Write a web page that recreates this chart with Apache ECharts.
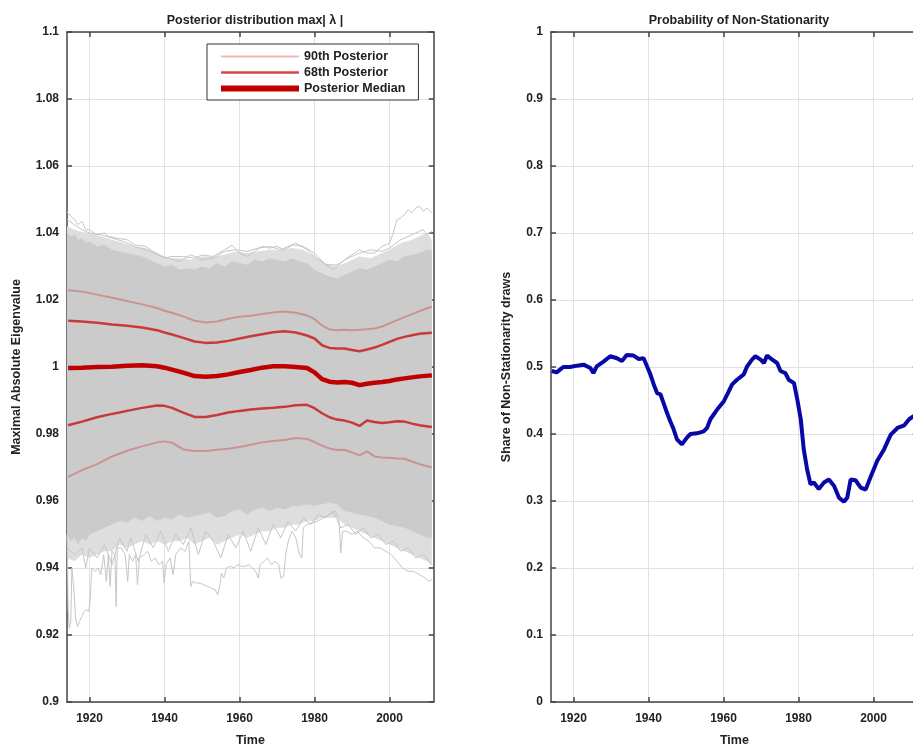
<!DOCTYPE html>
<html><head><meta charset="utf-8">
<script src="https://cdn.jsdelivr.net/npm/echarts@6/dist/echarts.min.js"></script>
<style>html,body{margin:0;padding:0;background:#fff}#c{width:913px;height:745px}</style>
</head><body><div id="c"></div><script>
// ---------- data ----------
const xTicks = [1920, 1940, 1960, 1980, 2000];

// dense grey posterior-draw band (lower / upper edge)
const bandYears = [1914,1915,1916,1917,1918,1919,1920,1922,1924,1926,1928,1930,1932,1934,1936,1938,1940,1942,1944,1946,1948,1950,1952,1954,1956,1958,1960,1962,1964,1966,1968,1970,1972,1974,1976,1978,1980,1982,1984,1986,1988,1990,1992,1994,1996,1998,2000,2002,2004,2006,2008,2010,2011.3];
const bandHigh = [1.040,1.039,1.0395,1.038,1.0385,1.037,1.0375,1.036,1.0365,1.035,1.0345,1.034,1.0335,1.033,1.032,1.031,1.030,1.0305,1.029,1.0295,1.029,1.030,1.0295,1.031,1.030,1.0315,1.031,1.0305,1.032,1.0315,1.0325,1.032,1.0315,1.0325,1.0315,1.031,1.029,1.028,1.027,1.0265,1.0275,1.0285,1.0295,1.029,1.030,1.031,1.032,1.0315,1.033,1.0335,1.034,1.035,1.035];
const bandLow = [0.950,0.948,0.949,0.947,0.949,0.948,0.950,0.951,0.952,0.953,0.954,0.9535,0.955,0.954,0.9555,0.954,0.955,0.9545,0.956,0.955,0.9555,0.956,0.9565,0.955,0.9555,0.957,0.9575,0.956,0.9575,0.958,0.957,0.958,0.9575,0.9585,0.9585,0.959,0.9585,0.959,0.9595,0.959,0.957,0.9565,0.956,0.9555,0.955,0.954,0.953,0.9525,0.952,0.951,0.950,0.949,0.949];

// sparse zone of scattered draws (outer envelope of most draws)
const sparseTopYears = [1914,1917,1920,1923,1926,1929,1932,1935,1938,1941,1944,1947,1950,1953,1956,1959,1962,1965,1968,1971,1974,1977,1980,1983,1986,1989,1992,1995,1998,2000,2003,2006,2008,2010,2011.3];
const sparseTop = [1.042,1.0405,1.040,1.039,1.038,1.037,1.036,1.0355,1.034,1.0325,1.0325,1.032,1.033,1.033,1.0335,1.0345,1.034,1.0345,1.035,1.035,1.0355,1.035,1.033,1.031,1.030,1.0315,1.033,1.0325,1.034,1.035,1.037,1.038,1.039,1.040,1.038];
const sparseLowYears = [1914,1916,1918,1920,1922,1924,1926,1928,1930,1932,1934,1936,1938,1940,1942,1944,1946,1948,1950,1952,1954,1956,1958,1960,1962,1964,1966,1968,1970,1972,1974,1976,1978,1980,1982,1984,1986,1988,1990,1992,1994,1996,1998,2000,2002,2004,2006,2008,2010,2011.3];
const sparseLow = [0.943,0.942,0.944,0.943,0.944,0.945,0.945,0.947,0.946,0.947,0.948,0.947,0.948,0.947,0.948,0.948,0.949,0.947,0.948,0.949,0.947,0.948,0.949,0.950,0.949,0.950,0.951,0.951,0.952,0.952,0.953,0.953,0.954,0.954,0.955,0.955,0.955,0.953,0.952,0.951,0.950,0.949,0.948,0.947,0.946,0.945,0.944,0.943,0.942,0.941];

// individual outlying grey draws
const drawTopA = [[1914,1.0463],[1915,1.045],[1916,1.044],[1917,1.0425],[1918,1.0435],[1919,1.041],[1920,1.041],[1922,1.0395],[1924,1.040],[1925,1.039],[1927,1.0385],[1930,1.038],[1932,1.0365],[1935,1.036],[1937,1.0345],[1940,1.0325],[1942,1.033],[1945,1.033],[1948,1.0325],[1950,1.0334],[1953,1.033],[1956,1.035],[1958,1.0364],[1960,1.034],[1962,1.033],[1964,1.0345],[1966,1.036],[1968,1.0355],[1970,1.036],[1972,1.035],[1975,1.037],[1978,1.035],[1980,1.033],[1982,1.0313],[1985,1.029],[1988,1.032],[1990,1.0335],[1992,1.035],[1994,1.034],[1996,1.034],[1998,1.036],[2000,1.037],[2001,1.040],[2002,1.044],[2003,1.0445],[2004,1.0455],[2005,1.047],[2006,1.046],[2007,1.0475],[2008,1.048],[2009,1.0465],[2010,1.0475],[2011.3,1.046]];
const drawTopB = [[1914,1.044],[1916,1.0425],[1918,1.041],[1920,1.040],[1923,1.0395],[1926,1.0385],[1929,1.0375],[1932,1.036],[1935,1.035],[1938,1.0335],[1941,1.0325],[1944,1.0315],[1947,1.0335],[1950,1.032],[1953,1.0325],[1956,1.0345],[1959,1.035],[1962,1.0345],[1965,1.0355],[1968,1.036],[1971,1.035],[1974,1.0365],[1977,1.036],[1980,1.034],[1983,1.0305],[1986,1.0305],[1989,1.0325],[1992,1.034],[1995,1.035],[1998,1.0345],[2000,1.0355],[2003,1.038],[2006,1.0395],[2008,1.0405],[2009,1.041],[2010,1.0395],[2011.3,1.0405]];
const drawLowA = [[1914.0,0.950],[1914.3,0.928],[1914.6,0.922],[1915.0,0.924],[1915.3,0.94],[1915.8,0.934],[1916.3,0.925],[1916.8,0.9225],[1917.3,0.924],[1918,0.9255],[1918.5,0.927],[1919.2,0.9275],[1919.8,0.927],[1920.2,0.931],[1920.6,0.94],[1921.5,0.939],[1922.3,0.94],[1923,0.938],[1923.8,0.944],[1924.5,0.936],[1925,0.944],[1925.5,0.9345],[1926,0.945],[1926.8,0.944],[1927.1,0.9285],[1927.4,0.946],[1928.5,0.946],[1929.5,0.944],[1930.2,0.936],[1930.6,0.944],[1931.5,0.942],[1932.3,0.944],[1932.8,0.935],[1933.3,0.943],[1934.5,0.944],[1935.5,0.945],[1936.5,0.942],[1937.5,0.943],[1938.5,0.941],[1939.5,0.942],[1939.9,0.9355],[1940.4,0.941],[1941.5,0.943],[1942.3,0.938],[1943,0.944],[1944.3,0.946],[1945.5,0.945],[1946.5,0.948],[1947,0.9345],[1947.5,0.936],[1948.5,0.9355],[1949.5,0.9355],[1950.5,0.935],[1951.5,0.9345],[1952.5,0.934],[1953.5,0.9335],[1954.2,0.932],[1954.8,0.935],[1955.2,0.9385],[1955.8,0.937],[1956.5,0.94],[1957.5,0.9405],[1958.5,0.94],[1959.5,0.941],[1960.5,0.9405],[1961.5,0.9405],[1962.5,0.941],[1963.5,0.94],[1964.5,0.9385],[1965,0.937],[1965.5,0.941],[1966.5,0.942],[1967.5,0.943],[1968.5,0.941],[1969.5,0.942],[1970.5,0.941],[1971,0.937],[1971.8,0.9375],[1972.3,0.944],[1973,0.948],[1974,0.951],[1975,0.949],[1976,0.944],[1976.6,0.943],[1977,0.952],[1978,0.953],[1979.5,0.9535],[1981,0.954],[1982.5,0.955],[1984,0.956],[1985.5,0.957],[1986.5,0.955],[1987,0.9445],[1987.5,0.951],[1988.5,0.951],[1990,0.950],[1991.5,0.951],[1993,0.949],[1994.5,0.948],[1996,0.946],[1997.5,0.946],[1999,0.945],[2000.5,0.944],[2002,0.942],[2003.5,0.940],[2005,0.939],[2006.5,0.939],[2008,0.938],[2009.5,0.937],[2010.5,0.936],[2011.3,0.9365]];
const drawLowB = [[1914,0.946],[1916,0.944],[1918,0.946],[1919,0.940],[1920,0.946],[1922,0.943],[1924,0.947],[1926,0.941],[1928,0.949],[1930,0.945],[1931,0.949],[1933,0.942],[1935,0.950],[1937,0.946],[1939,0.951],[1941,0.945],[1943,0.950],[1945,0.947],[1947,0.952],[1949,0.944],[1951,0.951],[1953,0.948],[1955,0.943],[1957,0.950],[1959,0.946],[1961,0.951],[1963,0.945],[1965,0.952],[1967,0.947],[1969,0.953],[1971,0.949],[1973,0.954],[1975,0.951],[1977,0.955],[1979,0.953],[1981,0.956],[1983,0.955],[1985,0.957],[1987,0.952],[1989,0.953],[1991,0.950],[1993,0.952],[1995,0.949],[1997,0.950],[1999,0.947],[2001,0.948],[2003,0.945],[2005,0.946],[2007,0.943],[2009,0.944],[2011.3,0.941]];

// posterior bands
const redYears = [1914.3,1918,1922,1926,1930,1934,1938,1940,1942,1945,1948,1951,1954,1957,1960,1963,1966,1969,1972,1975,1978,1980,1982,1984,1986,1988,1990,1992,1994,1996,1998,2000,2002,2004,2006,2008,2011.3];
const p90Upper = [1.0229,1.0225,1.0216,1.0207,1.0197,1.0187,1.0176,1.0168,1.0162,1.0151,1.0138,1.0133,1.0136,1.0144,1.0150,1.0153,1.0158,1.0163,1.0166,1.0162,1.0154,1.0143,1.0124,1.0112,1.0110,1.0111,1.0110,1.0111,1.0113,1.0115,1.0121,1.0130,1.0140,1.0149,1.0158,1.0167,1.0180];
const p68Upper = [1.0138,1.0136,1.0132,1.0127,1.0123,1.0118,1.0110,1.0103,1.0097,1.0087,1.0076,1.0072,1.0073,1.0078,1.0085,1.0092,1.0098,1.0104,1.0107,1.0103,1.0094,1.0085,1.0065,1.0057,1.0055,1.0055,1.0051,1.0047,1.0052,1.0058,1.0066,1.0075,1.0084,1.0090,1.0095,1.0099,1.0102];
const median = [0.9997,0.9998,1.0000,1.0001,1.0004,1.0005,1.0002,0.9998,0.9992,0.9983,0.9973,0.9971,0.9973,0.9978,0.9985,0.9991,0.9998,1.0002,1.0002,1.0000,0.9997,0.9984,0.9964,0.9956,0.9954,0.9955,0.9953,0.9946,0.9950,0.9953,0.9955,0.9958,0.9963,0.9966,0.9969,0.9972,0.9975];
const p68Lower = [0.9826,0.9837,0.9850,0.9860,0.9869,0.9878,0.9885,0.9884,0.9878,0.9864,0.9851,0.9851,0.9857,0.9864,0.9869,0.9873,0.9876,0.9878,0.9881,0.9886,0.9887,0.9877,0.9862,0.9850,0.9843,0.9840,0.9834,0.9824,0.9840,0.9836,0.9833,0.9835,0.9838,0.9837,0.9831,0.9826,0.9821];
const p90Lower = [0.9672,0.9692,0.9710,0.9733,0.9750,0.9763,0.9775,0.9778,0.9774,0.9754,0.9749,0.9749,0.9753,0.9756,0.9761,0.9768,0.9775,0.9779,0.9782,0.9788,0.9785,0.9776,0.9765,0.9757,0.9752,0.9753,0.9745,0.9736,0.9748,0.9733,0.9730,0.9729,0.9727,0.9726,0.9718,0.9710,0.9700];

// probability of non-stationarity
const probYears = [1914.2,1915.5,1916.4,1917.3,1919.1,1920.9,1922.7,1924.5,1925.3,1926.2,1928.0,1929.8,1931.6,1932.9,1934.2,1936.0,1937.4,1938.7,1939.6,1940.5,1941.4,1942.3,1943.2,1944.0,1944.9,1945.8,1946.7,1947.6,1948.9,1949.4,1950.3,1951.2,1952.9,1954.7,1955.6,1956.5,1958.3,1960.1,1961.0,1962.3,1963.6,1965.4,1966.3,1967.6,1968.5,1969.9,1970.8,1971.6,1973.0,1974.3,1975.2,1976.5,1977.4,1978.8,1979.7,1980.6,1981.4,1982.3,1983.2,1984.1,1985.4,1986.8,1988.1,1989.5,1990.8,1992.1,1993.0,1993.9,1995.2,1996.6,1997.9,1999.3,2001.0,2002.8,2004.6,2006.4,2008.2,2009.5,2010.8,2011.3];
const probVals = [0.494,0.492,0.496,0.500,0.500,0.502,0.5035,0.4985,0.491,0.501,0.508,0.516,0.513,0.509,0.518,0.517,0.512,0.513,0.501,0.489,0.474,0.461,0.459,0.4465,0.432,0.419,0.407,0.392,0.3845,0.382,0.395,0.400,0.401,0.404,0.409,0.422,0.4365,0.449,0.459,0.474,0.481,0.489,0.501,0.511,0.516,0.511,0.506,0.517,0.511,0.506,0.494,0.491,0.481,0.476,0.451,0.422,0.377,0.347,0.325,0.3275,0.318,0.3275,0.332,0.3225,0.305,0.299,0.305,0.332,0.331,0.320,0.317,0.337,0.360,0.377,0.399,0.409,0.413,0.422,0.427,0.429];

// ---------- chart ----------
const FONT = '"Liberation Sans", Arial, Helvetica, sans-serif';
const AX = '#444';
const TXT = '#222';
const GRIDC = '#e2e2e2';
const zip = (xs, ys) => xs.map((x, i) => [x, ys[i]]);
const trim = v => String(parseFloat(v.toFixed(3)));

function xAxis(gi, pos) {
  const b = pos === 'bottom';
  return {
    type: 'value', gridIndex: gi, position: pos, min: 1914, max: 2011.8,
    axisLine: { show: true, onZero: false, lineStyle: { color: AX, width: 1.5 } },
    axisTick: { show: true, inside: true, length: 5, customValues: xTicks, lineStyle: { color: AX, width: 1.5 } },
    axisLabel: { show: b, customValues: xTicks, margin: 11, fontSize: 12, fontWeight: 'bold', color: TXT, fontFamily: FONT,
                 formatter: v => String(v) },
    splitLine: { show: b, lineStyle: { color: GRIDC, width: 1 } },
    name: b ? 'Time' : '', nameLocation: 'middle', nameGap: 32,
    nameTextStyle: { fontSize: 12.5, fontWeight: 'bold', color: TXT, fontFamily: FONT }
  };
}
function yAxis(gi, pos, min, max, step, name, gap) {
  const l = pos === 'left';
  return {
    type: 'value', gridIndex: gi, position: pos, min: min, max: max, interval: step,
    axisLine: { show: true, onZero: false, lineStyle: { color: AX, width: 1.5 } },
    axisTick: { show: true, inside: true, length: 5, lineStyle: { color: AX, width: 1.5 } },
    axisLabel: { show: l, margin: 8, fontSize: 12, fontWeight: 'bold', color: TXT, fontFamily: FONT, formatter: trim },
    splitLine: { show: l, lineStyle: { color: GRIDC, width: 1 } },
    name: l ? name : '', nameLocation: 'middle', nameGap: gap,
    nameTextStyle: { fontSize: 12.5, fontWeight: 'bold', color: TXT, fontFamily: FONT }
  };
}
function band(topX, topY, lowX, lowY, fill, z) {
  return {
    type: 'custom', xAxisIndex: 0, yAxisIndex: 0, silent: true, z: z,
    data: topX.map((y, i) => [y, topY[i]]),
    encode: { x: 0, y: 1 },
    renderItem: function (params, api) {
      if (params.dataIndex !== 0) return null;
      const top = topX.map((y, i) => api.coord([y, topY[i]]));
      const bot = lowX.map((y, i) => api.coord([y, lowY[i]])).reverse();
      return { type: 'polygon', shape: { points: top.concat(bot) }, style: { fill: fill } };
    }
  };
}
function greyLine(data) {
  return { type: 'line', xAxisIndex: 0, yAxisIndex: 0, data: data, symbol: 'none', silent: true, z: 3,
           lineStyle: { color: '#c6c6c6', width: 1 } };
}
function redLine(name, ys, color, width, z) {
  return { name: name, type: 'line', xAxisIndex: 0, yAxisIndex: 0, data: zip(redYears, ys), symbol: 'none',
           silent: true, z: z, lineStyle: { color: color, width: width }, itemStyle: { color: color } };
}

const C90 = 'rgba(200,0,0,0.28)', C68 = 'rgba(200,0,0,0.72)', CMED = '#c00000';
const chart = echarts.init(document.getElementById('c'), null, { renderer: 'canvas' });
chart.setOption({
  animation: false,
  backgroundColor: '#fff',
  title: [
    { text: 'Posterior distribution max| λ |', left: 250, top: 9, textAlign: 'center',
      textStyle: { fontSize: 12.5, fontWeight: 'bold', color: TXT, fontFamily: FONT } },
    { text: 'Probability of Non-Stationarity', left: 734, top: 9, textAlign: 'center',
      textStyle: { fontSize: 12.5, fontWeight: 'bold', color: TXT, fontFamily: FONT } }
  ],
  legend: {
    data: [
      { name: '90th Posterior', icon: 'path://M0,0H78V2H0Z', itemStyle: { color: C90 } },
      { name: '68th Posterior', icon: 'path://M0,0H78V2.5H0Z', itemStyle: { color: C68 } },
      { name: 'Posterior Median', icon: 'path://M0,0H78V6H0Z', itemStyle: { color: CMED } }
    ],
    orient: 'vertical', left: 207, top: 44, itemWidth: 78, itemHeight: 14, itemGap: 3,
    symbolKeepAspect: true,
    padding: [6, 13, 5, 14], borderColor: '#333', borderWidth: 1, backgroundColor: '#fff',
    textStyle: { fontSize: 12.5, fontWeight: 'bold', color: TXT, fontFamily: FONT },
    selectedMode: false
  },
  grid: [
    { left: 67, top: 32, width: 366.75, height: 670, outerBoundsMode: 'none', containLabel: false },
    { left: 551, top: 32, width: 366.75, height: 670, outerBoundsMode: 'none', containLabel: false }
  ],
  xAxis: [xAxis(0, 'bottom'), xAxis(0, 'top'), xAxis(1, 'bottom'), xAxis(1, 'top')],
  yAxis: [
    yAxis(0, 'left', 0.9, 1.1, 0.02, 'Maximal Absolute Eigenvalue', 44),
    yAxis(0, 'right', 0.9, 1.1, 0.02, '', 0),
    yAxis(1, 'left', 0, 1, 0.1, 'Share of Non-Stationarity draws', 38),
    yAxis(1, 'right', 0, 1, 0.1, '', 0)
  ],
  series: [
    band(sparseTopYears, sparseTop, sparseLowYears, sparseLow, '#dedede', 1),
    band(bandYears, bandHigh, bandYears, bandLow, '#cbcbcb', 2),
    greyLine(drawTopA), greyLine(drawTopB), greyLine(drawLowA), greyLine(drawLowB),
    redLine('90th Posterior', p90Upper, C90, 2, 4),
    redLine('90th Posterior', p90Lower, C90, 2, 4),
    redLine('68th Posterior', p68Upper, C68, 2.5, 5),
    redLine('68th Posterior', p68Lower, C68, 2.5, 5),
    redLine('Posterior Median', median, CMED, 4.5, 6),
    {
      type: 'line', xAxisIndex: 2, yAxisIndex: 2, data: zip(probYears, probVals), symbol: 'none',
      silent: true, z: 5, lineStyle: { color: '#0808a8', width: 4 }
    }
  ]
});
</script></body></html>
